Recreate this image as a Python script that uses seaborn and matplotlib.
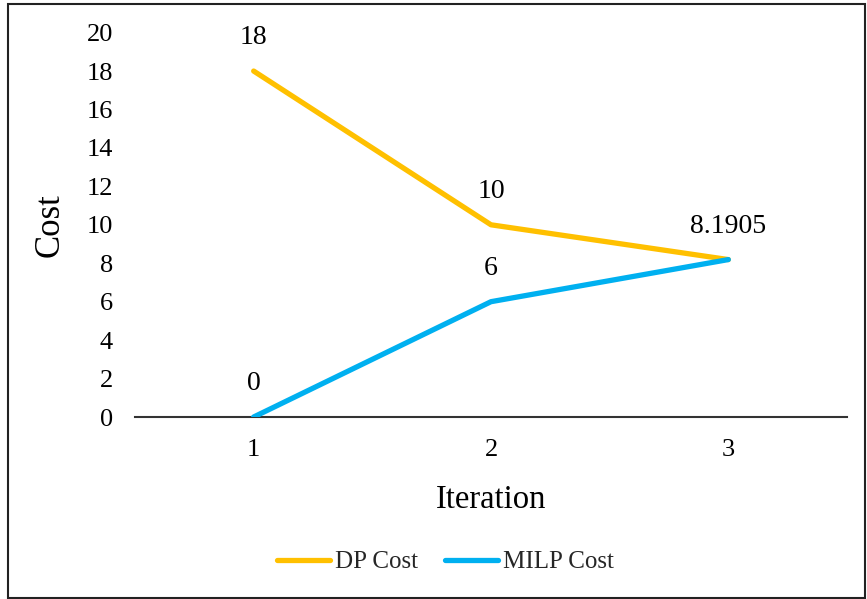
import matplotlib
matplotlib.use("Agg")
import matplotlib.pyplot as plt
from matplotlib.patches import Rectangle
import pandas as pd
import seaborn as sns

iterations = [1, 2, 3]
dp_cost = [18, 10, 8.1905]
milp_cost = [0, 6, 8.1905]
series_names = ["DP Cost", "MILP Cost"]
series_colors = ["#FFC000", "#00B0F0"]
y_ticks = [0, 2, 4, 6, 8, 10, 12, 14, 16, 18, 20]

df = pd.DataFrame({
    "Iteration": iterations * 2,
    "Cost": dp_cost + milp_cost,
    "Series": [series_names[0]] * len(dp_cost) + [series_names[1]] * len(milp_cost),
})

sns.set_theme(style="white")
plt.rcParams["font.family"] = ["Liberation Serif", "DejaVu Serif"]

W, H = 867, 599
fig = plt.figure(figsize=(W / 100, H / 100), dpi=100)
ax = fig.add_axes([135 / W, (H - 417) / H, (847 - 135) / W, (417 - 32.6) / H])

sns.lineplot(data=df, x="Iteration", y="Cost", hue="Series",
             palette=series_colors, linewidth=3.8, ax=ax, legend=False,
             solid_capstyle="round")

# value labels above each point (the shared endpoint is labelled once)
labels = [(x, v) for x, v in zip(iterations, dp_cost)]
labels += [(x, v) for x, v in zip(iterations, milp_cost) if v not in dp_cost]
for x, v in labels:
    txt = f"{v:g}"
    ax.annotate(txt, (x, v), xytext=(0, 24), textcoords="offset points",
                ha="center", va="center", fontsize=20, color="black")

ax.set_xlim(0.5, 3.5)
ax.set_ylim(0, 20)
ax.set_xticks(iterations)
ax.set_xticklabels([str(i) for i in iterations])
ax.set_yticks(y_ticks)
ax.set_yticklabels([str(t) for t in y_ticks])
ax.tick_params(axis="x", length=0, pad=16, labelsize=19, colors="black")
ax.tick_params(axis="y", length=0, pad=16, labelsize=19, colors="black")

for side in ["left", "right", "top"]:
    ax.spines[side].set_visible(False)
ax.spines["bottom"].set_color("#333333")
ax.spines["bottom"].set_linewidth(1.5)
ax.spines["bottom"].set_zorder(0)

ax.set_xlabel("Iteration", fontsize=23.5, color="black", labelpad=17)
ax.set_ylabel("Cost", fontsize=25, color="black", labelpad=14)

handles = [plt.Line2D([], [], color=c, linewidth=3.8, solid_capstyle="round")
           for c in series_colors]
fig.legend(handles, series_names, loc="center", bbox_to_anchor=(0.514, (H - 562) / H),
           ncol=2, frameon=False, fontsize=18, handlelength=2.1,
           handletextpad=0.2, columnspacing=1.1)

# outer frame around the whole chart
fig.patches.append(Rectangle((7.5 / W, 1.5 / H), (865 - 7.5) / W, (597.5 - 3.5) / H,
                             transform=fig.transFigure, fill=False,
                             edgecolor="#222222", linewidth=1.5))

fig.savefig("out.png", dpi=100, facecolor="white")
